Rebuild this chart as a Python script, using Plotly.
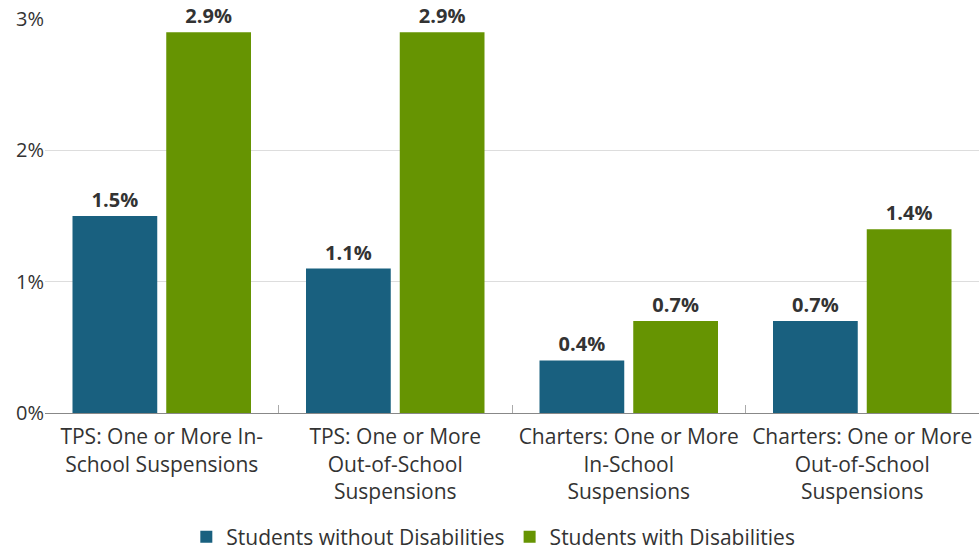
import plotly.graph_objects as go

categories = [
    "TPS: One or More In-<br>School Suspensions",
    "TPS: One or More<br>Out-of-School<br>Suspensions",
    "Charters: One or More<br>In-School<br>Suspensions",
    "Charters: One or More<br>Out-of-School<br>Suspensions",
]
without_dis = [1.5, 1.1, 0.4, 0.7]
with_dis = [2.9, 2.9, 0.7, 1.4]
series_names = ["Students without Disabilities", "Students with Disabilities"]
y_ticks = [0, 1, 2, 3]
y_tick_labels = ["0%", "1%", "2%", "3%"]

FONT = "Open Sans, sans-serif"
fig = go.Figure()
for name, vals, color in [(series_names[0], without_dis, "#19607f"),
                          (series_names[1], with_dis, "#669402")]:
    fig.add_trace(go.Bar(
        x=categories, y=vals, name=name, marker_color=color,
        marker_line_width=0,
        text=[f"<b>{v:.1f}%</b>" for v in vals], textposition="outside",
        textfont=dict(size=20, color="#333333", family=FONT),
        cliponaxis=False,
    ))

fig.update_layout(
    width=979, height=552,
    margin=dict(l=45, r=0, t=19, b=139, autoexpand=False),
    paper_bgcolor="white", plot_bgcolor="white",
    barmode="group", bargap=0.197, bargroupgap=0.096,
    font=dict(family=FONT, size=20, color="#333333"),
    showlegend=True,
    legend=dict(orientation="h", x=0.48, xanchor="center", y=-0.315, yanchor="middle",
                font=dict(size=21, color="#333333"), itemsizing="constant"),
)
fig.update_yaxes(range=[0, 3], tickvals=y_ticks, ticktext=y_tick_labels,
                 gridcolor="#dddddd", gridwidth=1, zeroline=False, showline=False,
                 tickfont=dict(size=20, color="#333333"), ticks="", ticklen=0,
                 automargin=False)
fig.update_xaxes(showline=True, linecolor="#888888", linewidth=1,
                 ticks="inside", tickson="boundaries", ticklen=8, tickcolor="#aaaaaa",
                 tickfont=dict(size=21, color="#333333"), automargin=False,
                 ticklabelstandoff=5)
fig.write_html("out.html", config={"displayModeBar": False},
               post_script="document.body.style.margin='0';")
